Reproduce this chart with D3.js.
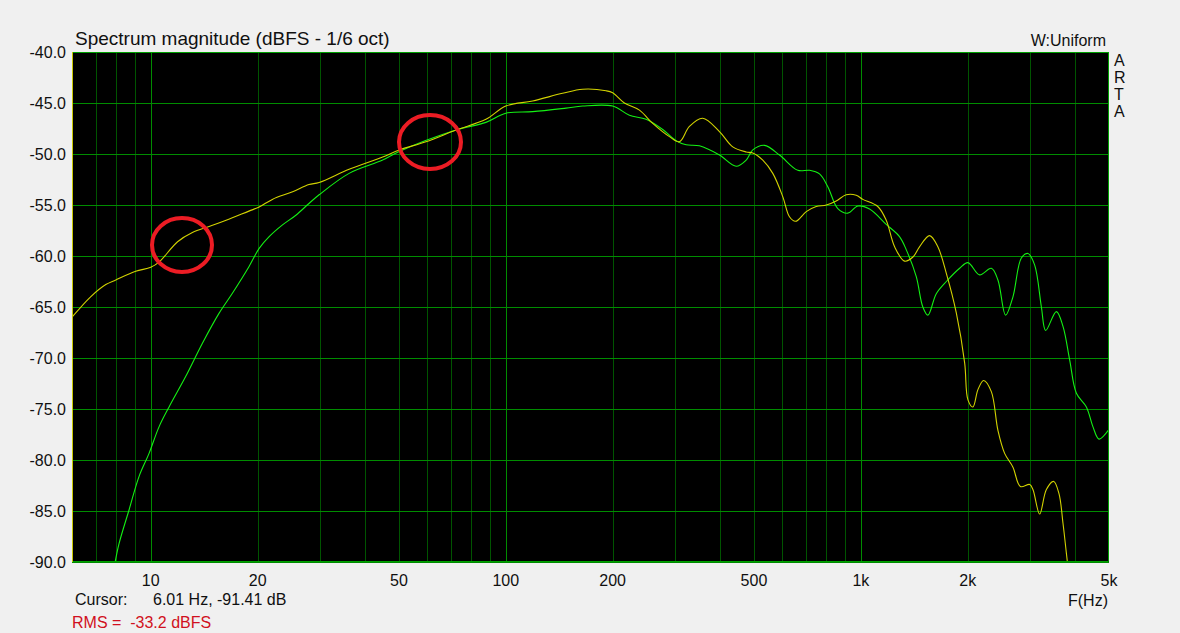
<!DOCTYPE html>
<html>
<head>
<meta charset="utf-8">
<script src="https://cdn.jsdelivr.net/npm/d3@7"></script>
<style>
  body { margin: 0; background: #f0f0f0; }
  text { font-family: "Liberation Sans", Arial, sans-serif; font-size: 16px; fill: #101010; }
</style>
</head>
<body>
<div id="chart"></div>
<script>
// yellow trace (freq Hz, dBFS)
var yellowFreq = [6.0, 6.77, 7.47, 7.97, 9.07, 10.0, 10.55, 11.9, 13.1, 14.6, 16.3, 18.9, 20.2, 22.0, 25.1, 27.9, 29.8,
  36.2, 45.0, 50.1, 59.6, 72.4, 87.9, 100, 119, 144.5, 164.6, 191.6, 200, 215.8, 237.9, 259.3, 289, 308.3, 329, 358.6,
  399.7, 435.7, 475.3, 496.2, 529.5, 565, 603, 629.5, 654.6, 701.9, 748.8, 799.3, 852.5, 909.6, 970.5, 1013, 1116,
  1179, 1245, 1328, 1402, 1463, 1562, 1648, 1741, 1858, 1961, 2003, 2069, 2137, 2217, 2331, 2433, 2541, 2682, 2814,
  2990, 3053, 3189, 3331, 3493, 3615, 3710, 3793, 3875];
var yellowDb = [-66.0, -64.0, -62.8, -62.35, -61.5, -61.1, -60.6, -58.6, -57.7, -57.1, -56.5, -55.6, -55.2, -54.45, -53.7, -53.0, -52.8,
  -51.5, -50.3, -49.6, -48.8, -47.65, -46.6, -45.3, -44.8, -44.05, -43.65, -43.8, -44.0, -45.0, -45.7, -47.0, -48.3, -48.8, -47.3, -46.5,
  -47.8, -49.3, -49.8, -49.9, -50.6, -51.9, -54.2, -56.15, -56.6, -55.65, -55.15, -55.0, -54.6, -54.0, -54.05, -54.45, -55.15,
  -56.5, -59.1, -60.5, -60.1, -59.1, -58.0, -59.1, -61.7, -65.6, -70.5, -74.1, -74.8, -73.1, -72.2, -73.3, -77.1, -79.35, -80.7, -82.6,
  -82.4, -82.9, -85.3, -82.9, -82.1, -83.3, -86.2, -89.15, -92.0];

// green trace (freq Hz, dBFS)
var greenFreq = [7.93, 8.14, 8.685, 9.27, 9.89, 10.55, 11.26, 12.55, 13.98, 15.58, 16.98, 18.9, 20.2, 21.55, 23.5, 25.63, 27.9, 29.8,
  36.2, 45.0, 50.1, 72.4, 87.9, 100, 119, 147.8, 164.6, 200, 222.9, 248.4, 276.7, 301.8, 322.1, 351, 399.7, 445.5, 475.3, 496.2,
  535.4, 590.1, 664.3, 716.8, 764.9, 807.2, 861.2, 919, 980.6, 1058, 1179, 1285, 1343, 1432, 1495, 1545, 1631, 1741, 1898, 2003,
  2160, 2331, 2433, 2557, 2682, 2832, 2957, 3088, 3225, 3316, 3554, 3710, 3875, 4047, 4318, 4507, 4687, 5000];
var greenDb = [-90.1, -88.2, -84.9, -81.6, -79.35, -76.75, -74.8, -71.8, -68.55, -65.6, -63.65, -61.05, -59.25, -58.1, -56.95, -56.0, -54.85, -54.0,
  -51.9, -50.6, -49.75, -47.65, -46.9, -46.0, -45.85, -45.5, -45.3, -45.3, -46.2, -46.6, -47.6, -48.7, -49.1, -49.2, -50.1, -51.2, -50.6, -49.6,
  -49.15, -50.1, -51.6, -51.6, -51.95, -53.2, -55.35, -55.8, -55.1, -55.4, -56.9, -58.1, -59.4, -62.0, -65.0, -65.8, -63.7, -62.5, -61.2, -60.65,
  -61.85, -61.2, -62.35, -65.8, -64.0, -60.2, -59.75, -60.9, -65.0, -67.3, -65.45, -66.9, -70.2, -73.45, -74.8, -76.75, -77.95, -77.0];

// axes
var xTicks = [10, 20, 50, 100, 200, 500, 1000, 2000, 5000];
var xTickLabels = ["10", "20", "50", "100", "200", "500", "1k", "2k", "5k"];
var xGrid = [7, 8, 9, 10, 20, 30, 40, 50, 60, 70, 80, 90, 100, 200, 300, 400, 500, 600, 700, 800, 900, 1000, 2000, 3000, 4000];
var yTicks = [-40, -45, -50, -55, -60, -65, -70, -75, -80, -85, -90];

var svgWidth = 1180;
var svgHeight = 633;
var margin = { top: 52, right: 71, bottom: 71, left: 72 };
var width = svgWidth - margin.left - margin.right;
var height = svgHeight - margin.top - margin.bottom;

var svg = d3.select("#chart").append("svg")
  .attr("width", svgWidth)
  .attr("height", svgHeight);

var chartGroup = svg.append("g")
  .attr("transform", `translate(${margin.left}, ${margin.top})`);

var x = d3.scaleLog().domain([6, 5000]).range([0, width]);
var y = d3.scaleLinear().domain([-90, -40]).range([height, 0]);

chartGroup.append("rect")
  .attr("width", width)
  .attr("height", height)
  .attr("fill", "#000");

// grid
chartGroup.append("g").selectAll("line")
  .data(xGrid)
  .enter().append("line")
  .attr("x1", d => Math.round(x(d)) + 0.5)
  .attr("x2", d => Math.round(x(d)) + 0.5)
  .attr("y1", 0)
  .attr("y2", height)
  .attr("stroke", d => [10, 100, 1000].includes(d) ? "#008c00" : "#005400")
  .attr("stroke-width", 1);

chartGroup.append("g").selectAll("line")
  .data(yTicks)
  .enter().append("line")
  .attr("x1", 0)
  .attr("x2", width)
  .attr("y1", d => Math.round(y(d)) + 0.5)
  .attr("y2", d => Math.round(y(d)) + 0.5)
  .attr("stroke", "#008c00")
  .attr("stroke-width", 1);

// traces
var clip = svg.append("clipPath").attr("id", "plotclip")
  .append("rect").attr("width", width).attr("height", height);

var line = d3.line()
  .x(d => x(d[0]))
  .y(d => y(d[1]))
  .curve(d3.curveCatmullRom);

var traces = [
  { freq: greenFreq, db: greenDb, color: "#14f014" },
  { freq: yellowFreq, db: yellowDb, color: "#d2d200" }
];

chartGroup.append("g")
  .attr("clip-path", "url(#plotclip)")
  .selectAll("path")
  .data(traces)
  .enter().append("path")
  .attr("d", t => line(d3.zip(t.freq, t.db)))
  .attr("fill", "none")
  .attr("stroke", t => t.color)
  .attr("stroke-width", 1.1);

// frame
chartGroup.append("path")
  .attr("d", `M0.5,0.5H${width - 0.5}V${height - 0.5}H0.5`)
  .attr("fill", "none")
  .attr("stroke", "#00a000");
chartGroup.append("line")
  .attr("x1", 0.5).attr("x2", 0.5)
  .attr("y1", 0).attr("y2", height)
  .attr("stroke", "#c8c800");

// tick labels
chartGroup.append("g").selectAll("text")
  .data(yTicks)
  .enter().append("text")
  .attr("x", -6)
  .attr("y", d => y(d) + 6)
  .attr("text-anchor", "end")
  .text(d => d.toFixed(1));

chartGroup.append("g").selectAll("text")
  .data(xTicks)
  .enter().append("text")
  .attr("x", d => x(d))
  .attr("y", height + 24)
  .attr("text-anchor", "middle")
  .text((d, i) => xTickLabels[i]);

// labels
svg.append("text").attr("x", 75).attr("y", 45).style("font-size", "19px").text("Spectrum magnitude (dBFS - 1/6 oct)");
svg.append("text").attr("x", 1106).attr("y", 46).attr("text-anchor", "end").text("W:Uniform");
["A", "R", "T", "A"].forEach(function(c, i) {
  svg.append("text").attr("x", 1114).attr("y", 66 + i * 17).text(c);
});
svg.append("text").attr("x", 1108).attr("y", 606).attr("text-anchor", "end").text("F(Hz)");
svg.append("text").attr("x", 75).attr("y", 605).text("Cursor:");
svg.append("text").attr("x", 153).attr("y", 605).text("6.01 Hz, -91.41 dB");
svg.append("text").attr("x", 72).attr("y", 628).style("fill", "#d01020").text("RMS =  -33.2 dBFS")
  .attr("xml:space", "preserve");

// red markers
svg.append("ellipse").attr("cx", 182).attr("cy", 245).attr("rx", 30).attr("ry", 27)
  .attr("fill", "none").attr("stroke", "#ec1c24").attr("stroke-width", 4);
svg.append("ellipse").attr("cx", 430).attr("cy", 142).attr("rx", 31).attr("ry", 27)
  .attr("fill", "none").attr("stroke", "#ec1c24").attr("stroke-width", 4);
</script>
</body>
</html>
